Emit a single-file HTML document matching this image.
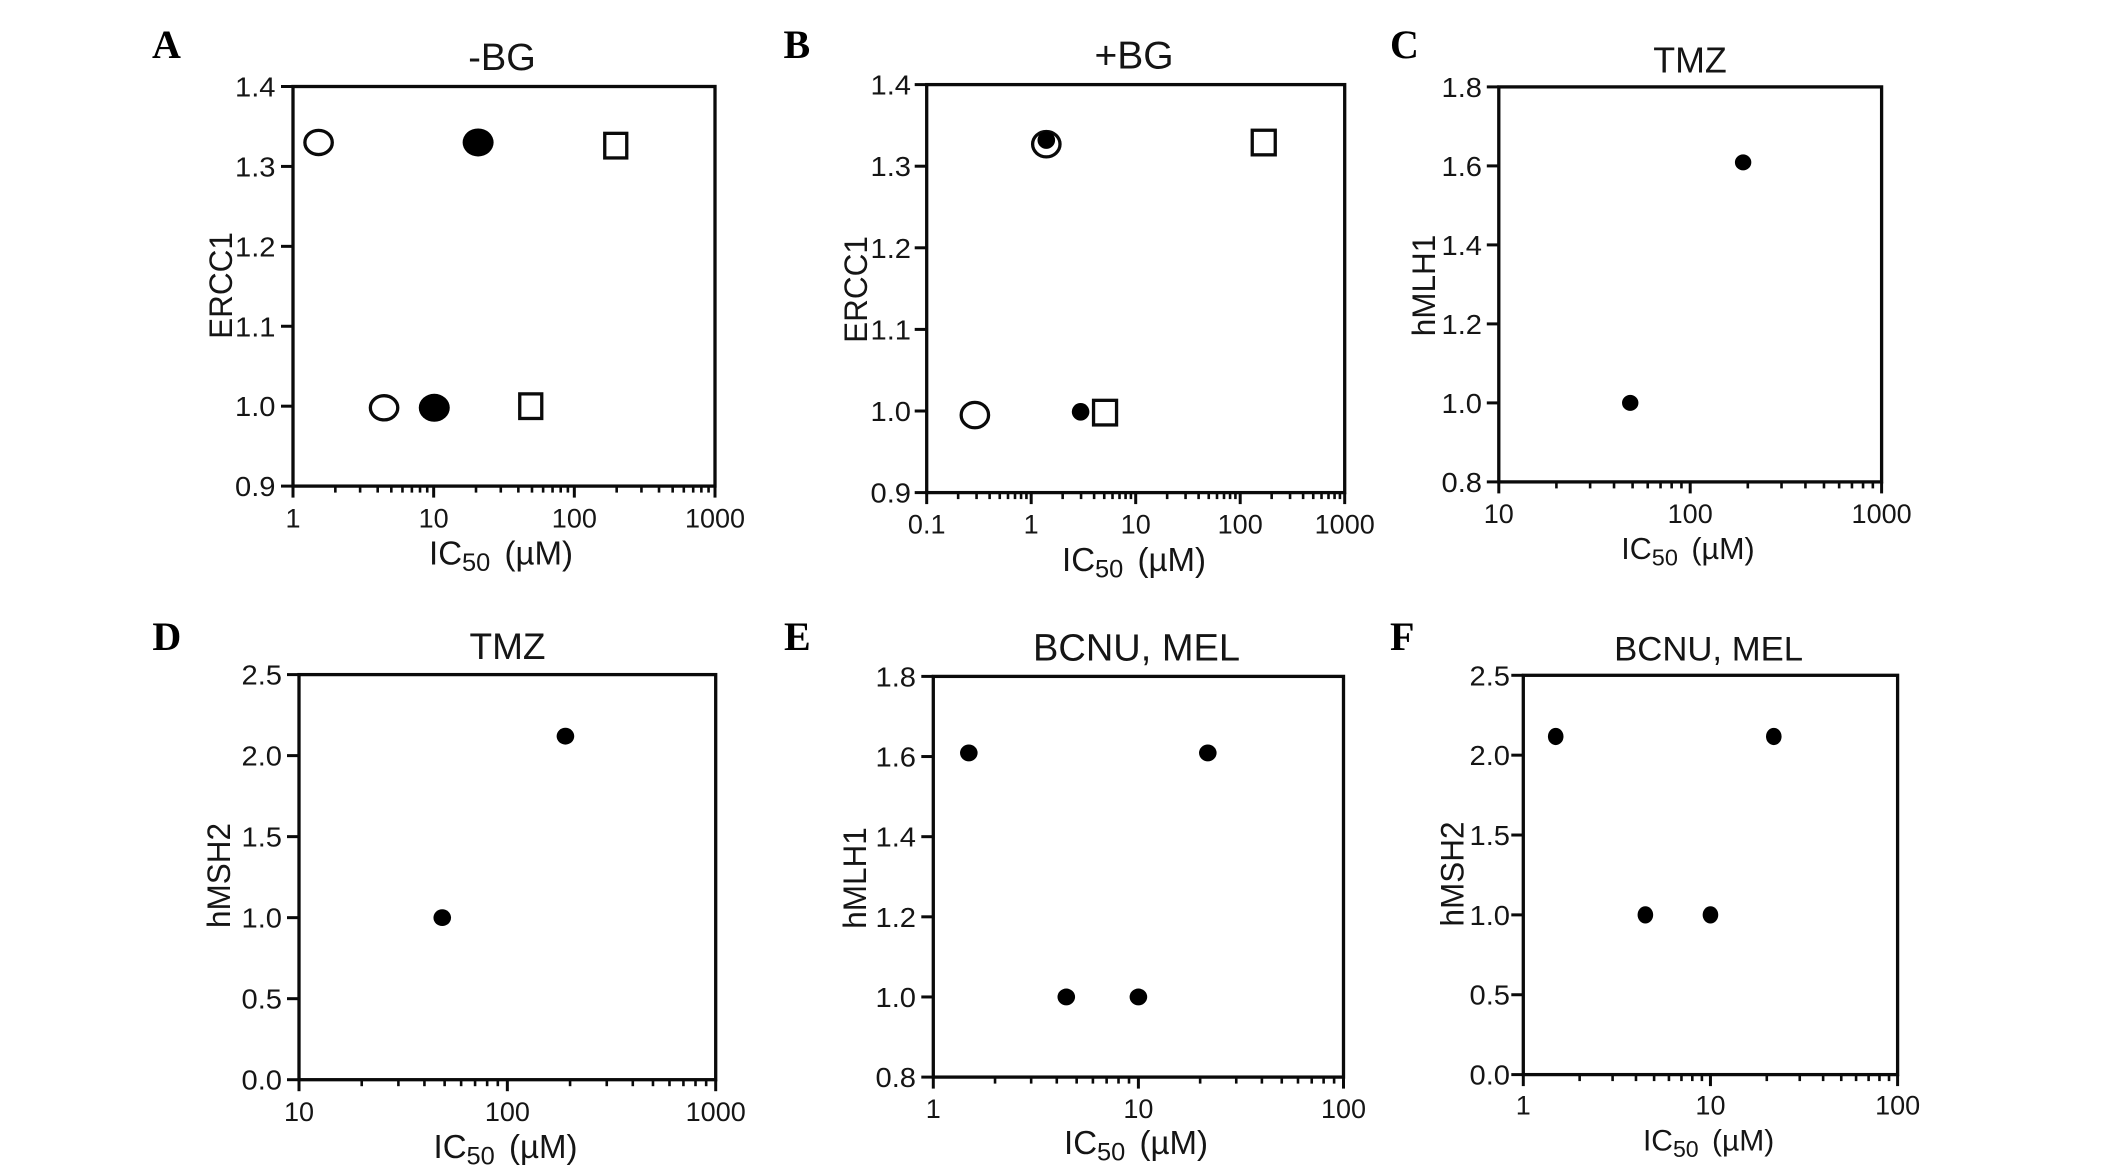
<!DOCTYPE html>
<html lang="en">
<head>
<meta charset="utf-8">
<title>IC50 versus DNA repair gene expression</title>
<style>
html,body{margin:0;padding:0;background:#fff;width:2126px;height:1170px;overflow:hidden}
svg{display:block}
text{font-family:"Liberation Sans",Arial,sans-serif;fill:#151515}
.letter{font-family:"Liberation Serif","Times New Roman",serif;font-weight:bold;font-size:40px;fill:#000}
</style>
</head>
<body>
<svg id="fig" xmlns="http://www.w3.org/2000/svg" width="2126" height="1170" viewBox="0 0 2126 1170"></svg>
<script>
// ---------- data ----------
const aXTicks = [1, 10, 100, 1000];
const aYTicks = [0.9, 1.0, 1.1, 1.2, 1.3, 1.4];
const aOpenCircleX = [1.52, 4.44];
const aOpenCircleY = [1.33, 0.998];
const aFilledCircleX = [20.7, 10.1];
const aFilledCircleY = [1.33, 0.998];
const aSquareX = [197, 49];
const aSquareY = [1.326, 1.0];

const bXTicks = [0.1, 1, 10, 100, 1000];
const bYTicks = [0.9, 1.0, 1.1, 1.2, 1.3, 1.4];
const bOpenCircleX = [1.395, 0.289];
const bOpenCircleY = [1.327, 0.995];
const bFilledCircleX = [1.395, 2.97];
const bFilledCircleY = [1.332, 0.999];
const bSquareX = [168, 5.09];
const bSquareY = [1.329, 0.998];

const cXTicks = [10, 100, 1000];
const cYTicks = [0.8, 1.0, 1.2, 1.4, 1.6, 1.8];
const cPointX = [48.6, 189];
const cPointY = [1.0, 1.609];

const dXTicks = [10, 100, 1000];
const dYTicks = [0.0, 0.5, 1.0, 1.5, 2.0, 2.5];
const dPointX = [48.7, 190];
const dPointY = [1.0, 2.12];

const eXTicks = [1, 10, 100];
const eYTicks = [0.8, 1.0, 1.2, 1.4, 1.6, 1.8];
const ePointX = [1.49, 4.45, 10, 21.8];
const ePointY = [1.609, 1.0, 1.0, 1.609];

const fXTicks = [1, 10, 100];
const fYTicks = [0.0, 0.5, 1.0, 1.5, 2.0, 2.5];
const fPointX = [1.49, 4.49, 10, 21.8];
const fPointY = [2.117, 1.0, 1.0, 2.117];

// ---------- panel layout ----------
const panels = [
  {id:'a', letter:'A', title:'-BG', yTitle:'ERCC1', xTicks:aXTicks, yTicks:aYTicks,
   box:{l:293,r:715,t:86.5,b:486.1},
   text:{letterX:152,letterY:58,titleX:502,titleY:70,titleSize:38,yTitleX:232,yTitleY:285.5,yTickX:275.5,xTickY:527.4,xTitleX:501,xTitleY:564.5,xTitleSize:33},
   series:[
     {name:'open-circle',shape:'open',xs:aOpenCircleX,ys:aOpenCircleY,rx:13.7,ry:12.1},
     {name:'filled-circle',shape:'fill',xs:aFilledCircleX,ys:aFilledCircleY,rx:15.5,ry:14},
     {name:'open-square',shape:'square',xs:aSquareX,ys:aSquareY,rx:11,ry:12.3}
   ]},
  {id:'b', letter:'B', title:'+BG', yTitle:'ERCC1', xTicks:bXTicks, yTicks:bYTicks,
   box:{l:926.7,r:1344.7,t:84.6,b:492.6},
   text:{letterX:783.5,letterY:58,titleX:1134,titleY:68.6,titleSize:39,yTitleX:867,yTitleY:289.5,yTickX:911,xTickY:533.6,xTitleX:1134,xTitleY:571,xTitleSize:33},
   series:[
     {name:'open-circle',shape:'open',xs:bOpenCircleX,ys:bOpenCircleY,rx:13.7,ry:12.7},
     {name:'filled-circle',shape:'fill',xs:bFilledCircleX,ys:bFilledCircleY,rx:8.8,ry:8.8},
     {name:'open-square',shape:'square',xs:bSquareX,ys:bSquareY,rx:11.5,ry:12.3}
   ]},
  {id:'c', letter:'C', title:'TMZ', yTitle:'hMLH1', xTicks:cXTicks, yTicks:cYTicks,
   box:{l:1498.8,r:1881.6,t:86.9,b:481.9},
   text:{letterX:1390,letterY:58,titleX:1690,titleY:72.5,titleSize:35.8,yTitleX:1435,yTitleY:285.5,yTickX:1482,xTickY:522.9,xTitleX:1688,xTitleY:558.9,xTitleSize:30.5},
   series:[{name:'point',shape:'fill',xs:cPointX,ys:cPointY,rx:8.2,ry:8}]},
  {id:'d', letter:'D', title:'TMZ', yTitle:'hMSH2', xTicks:dXTicks, yTicks:dYTicks,
   box:{l:299,r:715.7,t:674.6,b:1079.7},
   text:{letterX:152.4,letterY:650,titleX:507.5,titleY:659,titleSize:37,yTitleX:230,yTitleY:875.5,yTickX:282,xTickY:1121.2,xTitleX:505.5,xTitleY:1158.2,xTitleSize:33},
   series:[{name:'point',shape:'fill',xs:dPointX,ys:dPointY,rx:8.8,ry:8.4}]},
  {id:'e', letter:'E', title:'BCNU, MEL', yTitle:'hMLH1', xTicks:eXTicks, yTicks:eYTicks,
   box:{l:933.3,r:1343.5,t:676.4,b:1077.1},
   text:{letterX:784,letterY:650,titleX:1136.5,titleY:660.5,titleSize:38,yTitleX:866,yTitleY:878,yTickX:916,xTickY:1118.1,xTitleX:1136,xTitleY:1154,xTitleSize:33},
   series:[{name:'point',shape:'fill',xs:ePointX,ys:ePointY,rx:8.8,ry:8.4}]},
  {id:'f', letter:'F', title:'BCNU, MEL', yTitle:'hMSH2', xTicks:fXTicks, yTicks:fYTicks,
   box:{l:1523.3,r:1897.6,t:675.3,b:1074.6},
   text:{letterX:1390,letterY:650,titleX:1708.6,titleY:660.5,titleSize:34.7,yTitleX:1463.7,yTitleY:874,yTickX:1510,xTickY:1114.6,xTitleX:1708.6,xTitleY:1150.6,xTitleSize:30}, 
   series:[{name:'point',shape:'fill',xs:fPointX,ys:fPointY,rx:7.8,ry:8.6}]}
];

// ---------- drawing ----------
const NS = 'http://www.w3.org/2000/svg';
const root = document.getElementById('fig');
const AXIS_W = 3.3;
const Y_TICK_STRETCH = 1.04;
const Y_TITLE_STRETCH = 1.04;

function make(parent, tag, attrs, content) {
  const node = document.createElementNS(NS, tag);
  for (const k in attrs) node.setAttribute(k, attrs[k]);
  if (content !== undefined) node.textContent = content;
  parent.appendChild(node);
  return node;
}

function logScale(domainMin, domainMax, pxMin, pxMax) {
  const a = Math.log10(domainMin), b = Math.log10(domainMax);
  return v => pxMin + (Math.log10(v) - a) / (b - a) * (pxMax - pxMin);
}
function linScale(domainMin, domainMax, pxMin, pxMax) {
  return v => pxMin + (v - domainMin) / (domainMax - domainMin) * (pxMax - pxMin);
}
function place(x, y, sx) {
  return 'translate(' + x + ' ' + y + ') scale(' + sx + ' 1)';
}

panels.forEach(p => {
  const b = p.box, t = p.text;
  const xTicks = p.xTicks, yTicks = p.yTicks;
  const x = logScale(xTicks[0], xTicks[xTicks.length - 1], b.l, b.r);
  const y = linScale(yTicks[0], yTicks[yTicks.length - 1], b.b, b.t);

  const g = make(root, 'g', {});
  
  

  const letter = make(g, 'text', {x: t.letterX, y: t.letterY, class: 'letter'}, p.letter);
  
  

  const title = make(g, 'text', {x: t.titleX, y: t.titleY, 'text-anchor': 'middle', 'font-size': t.titleSize}, p.title);
  
  

  const frame = make(g, 'rect', {x: b.l, y: b.t, width: b.r - b.l, height: b.b - b.t, fill: 'none', stroke: '#0a0a0a', 'stroke-width': AXIS_W});
  
  

  // y axis ticks and labels
  yTicks.forEach(v => {
    const py = y(v);
    const tick = make(g, 'line', {x1: b.l - 12, x2: b.l, y1: py, y2: py, stroke: '#0a0a0a', 'stroke-width': 3});
    
    
    const lab = make(g, 'text', {transform: place(t.yTickX, py + 10, Y_TICK_STRETCH), 'text-anchor': 'end', 'font-size': 28}, v.toFixed(1));
    
    
  });

  // x axis ticks and labels
  xTicks.forEach((v, i) => {
    const px = x(v);
    const tick = make(g, 'line', {x1: px, x2: px, y1: b.b, y2: b.b + 11.5, stroke: '#0a0a0a', 'stroke-width': 3});
    
    
    const lab = make(g, 'text', {x: px, y: t.xTickY, 'text-anchor': 'middle', 'font-size': 27}, String(v));
    
    
    if (i < xTicks.length - 1) {
      for (let m = 2; m < 10; m++) {
        const mx = x(v * m);
        const minor = make(g, 'line', {x1: mx, x2: mx, y1: b.b, y2: b.b + 6.5, stroke: '#0a0a0a', 'stroke-width': 2.6});
        
        
      }
    }
  });

  // axis titles
  const yTitle = make(g, 'text', {x: 0, y: 0, 'text-anchor': 'middle', 'font-size': 31.5,
    transform: 'translate(' + t.yTitleX + ' ' + t.yTitleY + ') rotate(-90) scale(1 ' + Y_TITLE_STRETCH + ')'}, p.yTitle);
  
  

  const xTitle = make(g, 'text', {x: t.xTitleX, y: t.xTitleY, 'text-anchor': 'middle', 'font-size': t.xTitleSize});
  
  
  make(xTitle, 'tspan', {}, 'IC');
  make(xTitle, 'tspan', {dy: 6.5, 'font-size': t.xTitleSize * 0.77}, '50');
  make(xTitle, 'tspan', {dy: -6.5, dx: 5}, ' (\u00B5M)');

  // series marks
  p.series.forEach(s => {
    s.xs.forEach((vx, i) => {
      const cx = x(vx), cy = y(s.ys[i]);
      let mark;
      if (s.shape === 'square') {
        mark = make(g, 'rect', {x: cx - s.rx, y: cy - s.ry, width: 2 * s.rx, height: 2 * s.ry, fill: '#fff', stroke: '#0a0a0a', 'stroke-width': AXIS_W});
      } else if (s.shape === 'open') {
        mark = make(g, 'ellipse', {cx: cx, cy: cy, rx: s.rx, ry: s.ry, fill: '#fff', stroke: '#0a0a0a', 'stroke-width': AXIS_W});
      } else {
        mark = make(g, 'ellipse', {cx: cx, cy: cy, rx: s.rx, ry: s.ry, fill: '#000'});
      }
      
      
    });
  });
});
</script>
</body>
</html>
